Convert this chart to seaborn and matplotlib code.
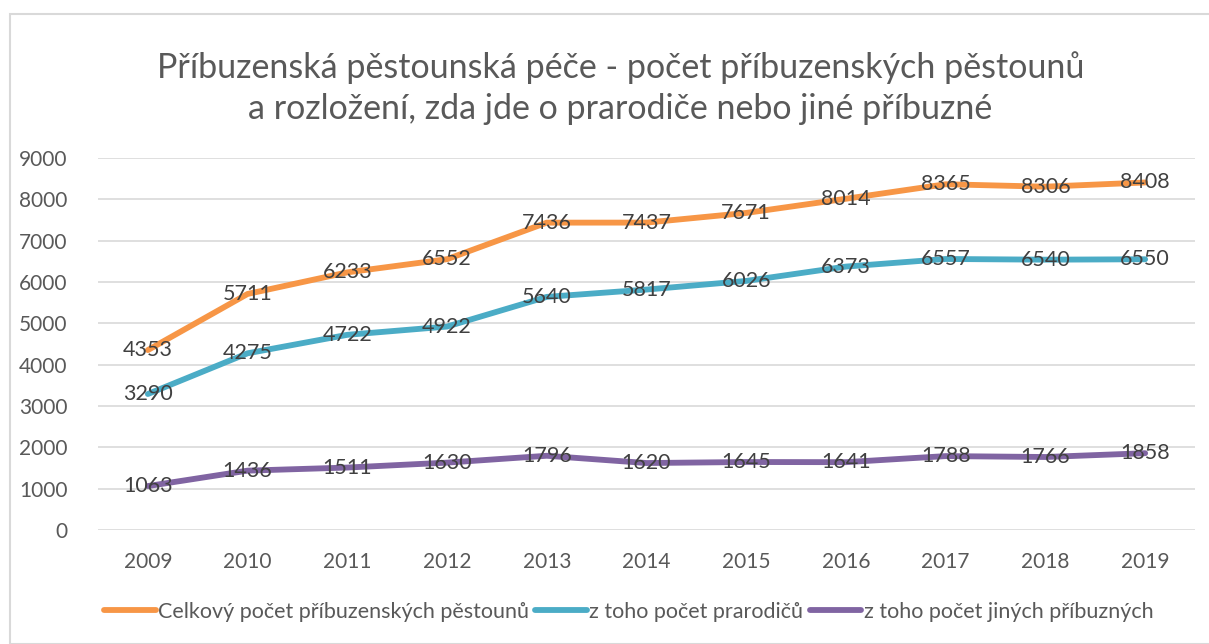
import matplotlib
matplotlib.use("Agg")
import matplotlib.pyplot as plt
import seaborn as sns
import pandas as pd
from matplotlib.patches import Rectangle
from matplotlib.lines import Line2D

years = ["2009", "2010", "2011", "2012", "2013", "2014", "2015", "2016", "2017", "2018", "2019"]
celkem = [4353, 5711, 6233, 6552, 7436, 7437, 7671, 8014, 8365, 8306, 8408]
prarodice = [3290, 4275, 4722, 4922, 5640, 5817, 6026, 6373, 6557, 6540, 6550]
jini = [1063, 1436, 1511, 1630, 1796, 1620, 1645, 1641, 1788, 1766, 1858]
series_names = ["Celkový počet příbuzenských pěstounů", "z toho počet prarodičů", "z toho počet jiných příbuzných"]
colors = ["#F79646", "#4BACC6", "#8064A2"]

rows = []
for name, vals in zip(series_names, [celkem, prarodice, jini]):
    for i, (y, v) in enumerate(zip(years, vals)):
        rows.append({"idx": i, "year": y, "value": v, "series": name})
df = pd.DataFrame(rows)

sns.set_theme(style="white")
plt.rcParams["font.family"] = ["Lato", "DejaVu Sans"]

fig = plt.figure(figsize=(12.09, 6.44), dpi=100)
fig.patches.append(Rectangle((10 / 1209, 0), 1.2, 1 - 14 / 644, transform=fig.transFigure,
                             fill=False, edgecolor="#D9D9D9", linewidth=1.5))
ax = fig.add_axes([98 / 1209, 1 - 530 / 644, (1195 - 98) / 1209, (530 - 158) / 644])

sns.lineplot(data=df, x="idx", y="value", hue="series", palette=colors,
             hue_order=series_names, linewidth=4.2, ax=ax, legend=False)

for name, vals in zip(series_names, [celkem, prarodice, jini]):
    for i, v in enumerate(vals):
        ax.text(i, v, str(v), ha="center", va="center", fontsize=15.5, color="#404040", zorder=5)

ax.set_xlim(-0.5, len(years) - 0.5)
ax.set_ylim(0, 9000)
ax.set_yticks(range(0, 9001, 1000))
ax.set_xticks(range(len(years)))
ax.set_xticklabels(years)
ax.yaxis.grid(True, color="#D9D9D9", linewidth=1.2)
ax.set_axisbelow(True)
for s in ax.spines.values():
    s.set_visible(False)
ax.tick_params(axis="both", length=0, labelsize=15, labelcolor="#595959")
ax.tick_params(axis="x", pad=16)
ax.tick_params(axis="y", pad=22)
ax.set_xlabel("")
ax.set_ylabel("")

fig.text(0.513, 1 - 88 / 644, "Příbuzenská pěstounská péče - počet příbuzenských pěstounů\na rozložení, zda jde o prarodiče nebo jiné příbuzné",
         ha="center", va="center", fontsize=24.5, color="#595959", linespacing=1.36)

handles = [Line2D([0], [0], color=c, lw=4.2) for c in colors]
fig.legend(handles, series_names, loc="center", bbox_to_anchor=(0.52, 1 - 612 / 644), ncol=3,
           frameon=False, fontsize=15.5, labelcolor="#595959", handlelength=2.4,
           handletextpad=0.1, columnspacing=0.3)

fig.savefig("out.png", dpi=100)
